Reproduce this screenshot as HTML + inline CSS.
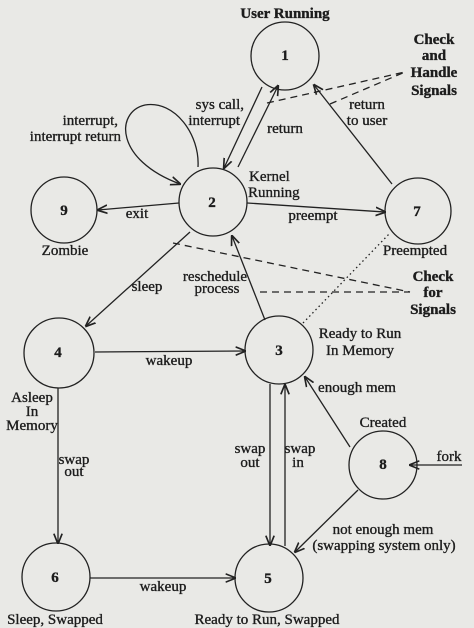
<!DOCTYPE html>
<html><head><meta charset="utf-8"><style>
html,body{margin:0;padding:0;background:#e9e9e6;}
svg{display:block}
text{font-family:"Liberation Serif",serif;font-size:15px;fill:#1c1c1c;stroke:#1c1c1c;stroke-width:0.35;}
.b{font-weight:bold}
</style></head><body>
<svg width="474" height="628" viewBox="0 0 474 628" xmlns="http://www.w3.org/2000/svg">
<defs><marker id="a" viewBox="0 0 10 10" refX="9" refY="5" markerWidth="8" markerHeight="8" orient="auto-start-reverse"><path d="M0,1 L10,5 L0,9" fill="none" stroke="#222" stroke-width="1.6"/></marker></defs>
<rect width="474" height="628" fill="#e9e9e6"/>
<g fill="none" stroke="#222" stroke-width="1.3">
<circle cx="285" cy="56" r="34"/><circle cx="213" cy="202" r="34"/><circle cx="64" cy="210" r="33"/>
<circle cx="418" cy="211" r="33"/><circle cx="59" cy="353" r="35"/><circle cx="279" cy="350" r="34"/>
<circle cx="383" cy="465" r="34"/><circle cx="56" cy="577" r="34"/><circle cx="269" cy="578" r="34"/>
<g marker-end="url(#a)">
<line x1="238" y1="167" x2="278" y2="86"/>
<line x1="262" y1="87" x2="224" y2="168"/>
<path d="M198,167 C200,135 175,100 145,105 C115,112 115,160 180,184"/>
<line x1="179" y1="203" x2="98" y2="210"/>
<line x1="247" y1="203" x2="385" y2="212"/>
<line x1="392" y1="184" x2="314" y2="85"/>
<line x1="265" y1="320" x2="232" y2="236"/>
<line x1="190" y1="232" x2="86" y2="326"/>
<line x1="95" y1="352" x2="245" y2="351"/>
<line x1="58" y1="388" x2="58" y2="543"/>
<line x1="270" y1="384" x2="270" y2="545"/>
<line x1="285" y1="546" x2="285" y2="385"/>
<line x1="350" y1="447" x2="305" y2="377"/>
<line x1="358" y1="490" x2="295" y2="552"/>
<line x1="462" y1="465" x2="410" y2="465"/>
<line x1="90" y1="578" x2="235" y2="578"/>
</g>
<g stroke-dasharray="7,5">
<line x1="267" y1="103" x2="405" y2="72"/>
<line x1="330" y1="104" x2="405" y2="72"/>
<line x1="173" y1="243" x2="410" y2="292"/>
<line x1="260" y1="292" x2="410" y2="292"/>
</g>
<line x1="303" y1="323" x2="390" y2="233" stroke-dasharray="1.5,3"/>
</g>
<g text-anchor="middle">
<text x="285" y="18" class="b">User Running</text>
<text x="285" y="60" class="b">1</text><text x="212" y="207" class="b">2</text><text x="64" y="215" class="b">9</text>
<text x="417" y="216" class="b">7</text><text x="58" y="357" class="b">4</text><text x="279" y="355" class="b">3</text>
<text x="383" y="469" class="b">8</text><text x="55" y="582" class="b">6</text><text x="268" y="583" class="b">5</text>
<text x="434" y="44" class="b">Check</text><text x="434" y="60" class="b">and</text>
<text x="434" y="77" class="b">Handle</text><text x="434" y="95" class="b">Signals</text>
<text x="433" y="281" class="b">Check</text><text x="433" y="297" class="b">for</text><text x="433" y="314" class="b">Signals</text>
<text x="285" y="133">return</text><text x="367" y="109">return</text><text x="367" y="125">to user</text>
<text x="137" y="218">exit</text><text x="313" y="220">preempt</text>
<text x="65" y="255">Zombie</text><text x="415" y="255">Preempted</text>
<text x="215" y="281">reschedule</text><text x="217" y="293">process</text><text x="147" y="291">sleep</text>
<text x="360" y="338">Ready to Run</text><text x="360" y="355">In Memory</text>
<text x="169" y="365">wakeup</text><text x="357" y="392">enough mem</text><text x="383" y="427">Created</text>
<text x="32" y="402">Asleep</text>
<text x="32" y="416">In</text><text x="32" y="430">Memory</text>
<text x="74" y="464">swap</text><text x="74" y="476">out</text>
<text x="250" y="453">swap</text><text x="250" y="467">out</text>
<text x="300" y="453">swap</text><text x="298" y="467">in</text>
<text x="449" y="461">fork</text>
<text x="383" y="534">not enough mem</text><text x="384" y="550">(swapping system only)</text>
<text x="163" y="591">wakeup</text>
<text x="55" y="624">Sleep, Swapped</text><text x="267" y="624">Ready to Run, Swapped</text>
</g>
<g text-anchor="end">
<text x="244" y="109">sys call,</text><text x="240" y="125">interrupt</text>
<text x="118" y="125">interrupt,</text><text x="121" y="141">interrupt return</text>
</g>
<text x="249" y="181">Kernel</text><text x="248" y="197">Running</text>
</svg>
</body></html>
